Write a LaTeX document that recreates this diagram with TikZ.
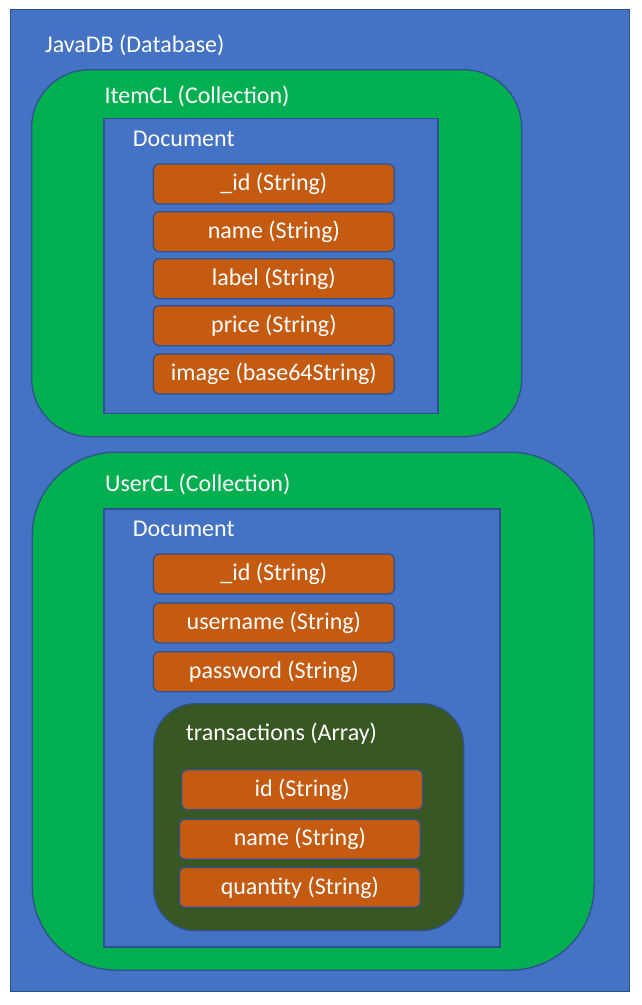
\documentclass[tikz,border=0pt]{standalone}
\usepackage{fontspec}
\setmainfont{Carlito}
\definecolor{dbblue}{HTML}{4472C4}
\definecolor{edgeblue}{HTML}{2F528F}
\definecolor{colgreen}{HTML}{00B050}
\definecolor{fieldorange}{HTML}{C55A11}
\definecolor{arrgreen}{HTML}{385723}
\begin{document}
\begin{tikzpicture}[x=1pt,y=-1pt,
  box/.style={draw=edgeblue, line width=1.3pt, anchor=north west, inner sep=0pt},
  dbbox/.style={box, fill=dbblue},
  colbox/.style={box, fill=colgreen},
  arrbox/.style={box, fill=arrgreen, rounded corners=42pt},
  docbox/.style={box, fill=dbblue},
  field/.style={box, fill=fieldorange, rounded corners=6pt, minimum height=40pt,
    text=white, font=\fontsize{24}{28}\selectfont},
  lbl/.style={anchor=base west, inner sep=0pt, text=white, font=\fontsize{24}{28}\selectfont}]
\useasboundingbox (0,0) rectangle (641,1005);
% database
\node[dbbox, minimum width=619pt, minimum height=982pt] (db) at (10,9) {};
\node[lbl] (dbl) at (45,52.7) {JavaDB (Database)};
% ItemCL
\node[colbox, rounded corners=58pt, minimum width=490pt, minimum height=367pt] (item) at (31,69) {};
\node[lbl] (iteml) at (104.3,103.3) {ItemCL (Collection)};
\node[docbox, minimum width=334pt, minimum height=295pt] (idoc) at (103.3,117.5) {};
\node[lbl] (idocl) at (132.7,146.7) {Document};
\node[field, minimum width=241pt] (i1) at (152.7,163.3) {\_id (String)};
\node[field, minimum width=241pt] (i2) at (152.7,211) {name (String)};
\node[field, minimum width=241pt] (i3) at (152.7,258) {label (String)};
\node[field, minimum width=241pt] (i4) at (152.7,305) {price (String)};
\node[field, minimum width=241pt] (i5) at (152.7,353.3) {image (base64String)};
% UserCL
\node[colbox, rounded corners=84pt, minimum width=562pt, minimum height=518pt] (user) at (31.5,451.5) {};
\node[lbl] (userl) at (105,491.5) {UserCL (Collection)};
\node[docbox, minimum width=396pt, minimum height=438pt] (udoc) at (103.3,508.3) {};
\node[lbl] (udocl) at (132.7,536.7) {Document};
\node[field, minimum width=241pt] (u1) at (152.7,553.3) {\_id (String)};
\node[field, minimum width=241pt] (u2) at (152.7,602.3) {username (String)};
\node[field, minimum width=241pt] (u3) at (152.7,651) {password (String)};
% transactions
\node[arrbox, minimum width=310pt, minimum height=227pt] (tr) at (153,703) {};
\node[lbl] (trl) at (185.7,740.7) {transactions (Array)};
\node[field, minimum width=241pt] (t1) at (181,769) {id (String)};
\node[field, minimum width=241pt] (t2) at (178.7,818.5) {name (String)};
\node[field, minimum width=241pt] (t3) at (178.7,866.7) {quantity (String)};
\end{tikzpicture}
\end{document}
